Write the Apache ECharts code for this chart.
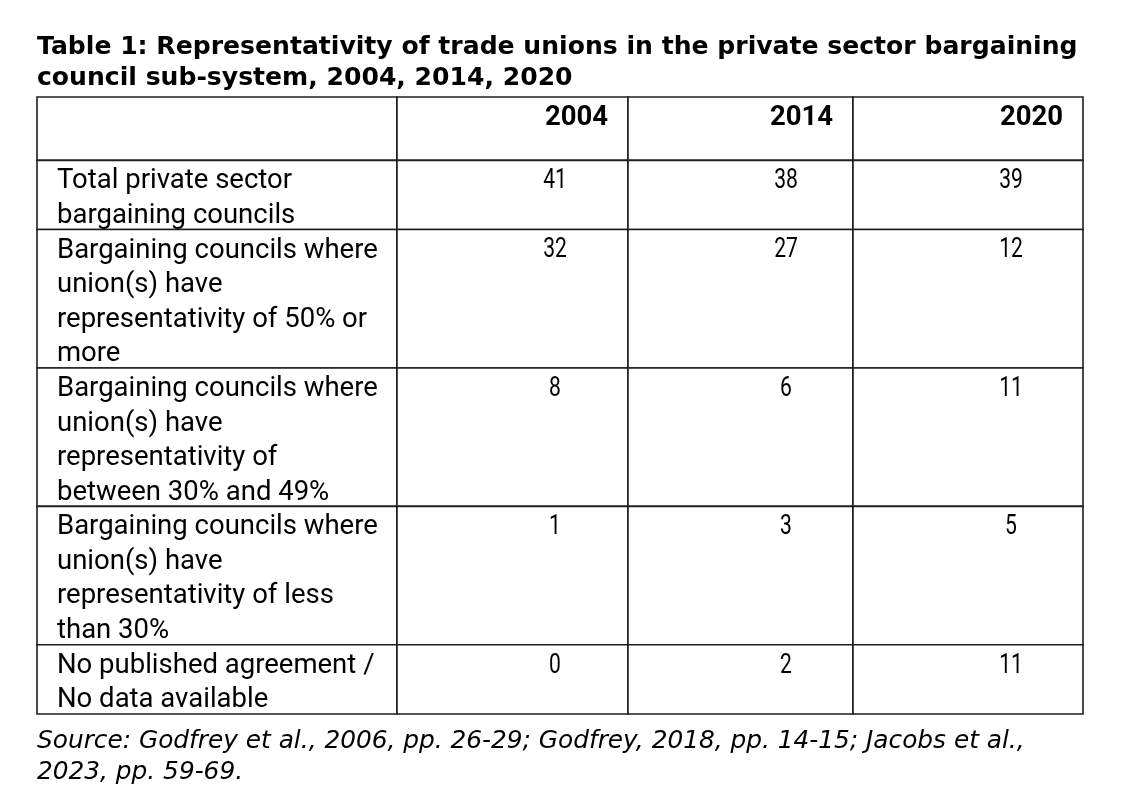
<!DOCTYPE html>
<html>
<head>
<meta charset="utf-8">
<script src="https://cdn.jsdelivr.net/npm/echarts@6/dist/echarts.min.js"></script>
<style>
  html, body { margin: 0; background: #fff; }
  #main { width: 1134px; height: 808px; }
</style>
</head>
<body>
<div id="main"></div>
<script>
// table content
var years = ['2004', '2014', '2020'];
var rowLabels = [
  'Total private sector\nbargaining councils',
  'Bargaining councils where\nunion(s) have\nrepresentativity of 50% or\nmore',
  'Bargaining councils where\nunion(s) have\nrepresentativity of\nbetween 30% and 49%',
  'Bargaining councils where\nunion(s) have\nrepresentativity of less\nthan 30%',
  'No published agreement /\nNo data available'
];
var values2004 = [41, 32, 8, 1, 0];
var values2014 = [38, 27, 6, 3, 2];
var values2020 = [39, 12, 11, 5, 11];
var titleText = 'Table 1: Representativity of trade unions in the private sector bargaining\ncouncil sub-system, 2004, 2014, 2020';
var sourceText = 'Source: Godfrey et al., 2006, pp. 26-29; Godfrey, 2018, pp. 14-15; Jacobs et al.,\n2023, pp. 59-69.';

var valuesByYear = [values2004, values2014, values2020];

// layout: column edges in px along the x axis, rows measured in text lines on the y axis
var colEdges = [0, 360, 591, 816, 1046];
var headerUnits = 1.83;
var rowTop = [0, headerUnits];
rowLabels.forEach(function (t) {
  rowTop.push(rowTop[rowTop.length - 1] + t.split('\n').length);
});
var yMax = rowTop[rowTop.length - 1];

// one entry per cell: col 0 = label column, row 0 = header row
var cells = [];
for (var c = 0; c < 4; c++) {
  cells.push({ col: c, row: 0, kind: 'head', text: c === 0 ? '' : years[c - 1] });
}
rowLabels.forEach(function (label, r) {
  cells.push({ col: 0, row: r + 1, kind: 'label', text: label });
  for (var k = 0; k < 3; k++) {
    cells.push({ col: k + 1, row: r + 1, kind: 'num', text: String(valuesByYear[k][r]) });
  }
});

function renderCell(params, api) {
  var cell = cells[params.dataIndex];
  var p0 = api.coord([colEdges[cell.col], rowTop[cell.row]]);
  var p1 = api.coord([colEdges[cell.col + 1], rowTop[cell.row + 1]]);
  var children = [{
    type: 'rect',
    shape: { x: p0[0], y: p0[1], width: p1[0] - p0[0], height: p1[1] - p0[1] },
    style: { fill: '#fff', stroke: '#1e1e1e', lineWidth: 1.6 }
  }];
  var txt;
  if (cell.kind === 'head') {
    txt = {
      type: 'text', x: p1[0] - 20, y: p0[1] + 21,
      style: { text: cell.text, fill: '#000', align: 'right', verticalAlign: 'middle',
        font: 'bold 27.5px Roboto' }
    };
  } else if (cell.kind === 'label') {
    txt = {
      type: 'text', x: p0[0] + 20, y: p0[1] + 4,
      style: { text: cell.text, fill: '#000', align: 'left', verticalAlign: 'top',
        lineHeight: 34.5, font: '27.5px Roboto' }
    };
  } else {
    // condensed digits
    txt = {
      type: 'text', x: p0[0] + 158, y: p0[1] + 21, scaleX: 0.78,
      style: { text: cell.text, fill: '#000', align: 'center', verticalAlign: 'middle',
        font: '27px Roboto' }
    };
  }
  children.push(txt);
  return { type: 'group', children: children };
}

var chart = echarts.init(document.getElementById('main'), null, { renderer: 'canvas' });
chart.setOption({
  animation: false,
  backgroundColor: '#fff',
  title: [{
    text: titleText,
    left: 37, top: 31.5, padding: 0,
    textStyle: { fontFamily: 'DejaVu Sans', fontWeight: 'bold', fontSize: 25.1, lineHeight: 31, color: '#000' }
  }, {
    text: sourceText,
    left: 37, top: 726.5, padding: 0,
    textStyle: { fontFamily: 'DejaVu Sans', fontStyle: 'italic', fontWeight: 'normal', fontSize: 24.8, lineHeight: 31, color: '#000' }
  }],
  grid: { left: 37, top: 97, width: 1046, height: 617 },
  xAxis: { type: 'value', min: 0, max: 1046, show: false },
  yAxis: { type: 'value', min: 0, max: yMax, inverse: true, show: false },
  series: [{
    type: 'custom',
    renderItem: renderCell,
    data: cells.map(function (cell) { return [cell.col, cell.row]; }),
    silent: true
  }]
});
</script>
</body>
</html>
